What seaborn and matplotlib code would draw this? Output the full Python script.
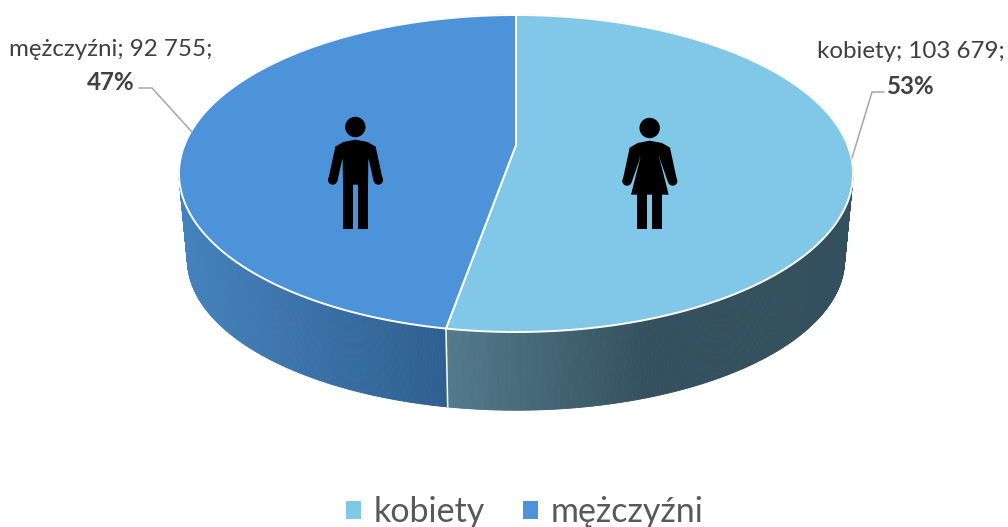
import numpy as np
import seaborn as sns
import matplotlib.pyplot as plt
from matplotlib.collections import PolyCollection
from matplotlib.patches import Patch, Polygon, Circle

# dane
categories = ['kobiety', 'mężczyźni']
values = [103679, 92755]
value_labels = ['103 679', '92 755']
colors = ['#81C8E8', '#4D93D9']

sns.set_theme(style='white')
plt.rcParams['font.family'] = ['Lato', 'DejaVu Sans']

# geometria "3D" kola (w pikselach rysunku)
cx, apex_y = 516, 145
half_w, y_up, y_down = 337, 130, 187
k = (y_down - y_up) / (y_down + y_up)
a = y_up * (1 + k)
b = half_w * np.sqrt(1 - k ** 2)
rim_scale_x, rim_scale_y, rim_apex_y = 0.975, 0.95, 232.6


def project(phi, sx=1.0, sy=1.0, y0=apex_y):
    # phi liczone od gory, zgodnie z ruchem wskazowek zegara
    u, v = np.sin(phi), np.cos(phi)
    d = 1 + k * v
    return cx + sx * b * u / d, y0 - sy * a * v / d


fig, ax = plt.subplots(figsize=(10.08, 5.27), dpi=100)
fig.subplots_adjust(0, 0, 1, 1)
ax.set_xlim(0, 1008)
ax.set_ylim(527, 0)
ax.axis('off')

shares = np.array(values) / sum(values)
edges = np.concatenate([[0], np.cumsum(shares)]) * 2 * np.pi

# boczna sciana z gradientem
side_palettes = [
    sns.blend_palette(['#527B8C', '#344F5D', '#344F5D'], 200),
    sns.blend_palette(['#4583BE', '#2F5F90'], 200),
]
x_ranges = [(447, 853), (180, 447)]
for i in range(2):
    phis = np.linspace(edges[i], edges[i + 1], 500)
    xt, yt = project(phis)
    xb, yb = project(phis, rim_scale_x, rim_scale_y, rim_apex_y)
    quads, cols = [], []
    x0, x1 = x_ranges[i]
    for j in range(len(phis) - 1):
        quads.append([(xt[j], yt[j]), (xt[j + 1], yt[j + 1]), (xb[j + 1], yb[j + 1]), (xb[j], yb[j])])
        t = np.clip((xb[j] - x0) / (x1 - x0), 0, 0.999)
        cols.append(side_palettes[i][int(t * 200)])
    ax.add_collection(PolyCollection(quads, facecolors=cols, edgecolors=cols, linewidths=0.6, zorder=1))

# linia miedzy segmentami na boku
xt, yt = project(edges[1])
xb, yb = project(edges[1], rim_scale_x, rim_scale_y, rim_apex_y)
ax.plot([xt, xb], [yt, yb], color='white', lw=1.1, zorder=2)

# gorna powierzchnia
for i in range(2):
    phis = np.linspace(edges[i], edges[i + 1], 400)
    xs, ys = project(phis)
    pts = np.column_stack([np.r_[cx, xs], np.r_[apex_y, ys]])
    ax.add_patch(Polygon(pts, closed=True, facecolor=colors[i], edgecolor='white', lw=1.4, zorder=3))


# ikony ludzikow (wspolrzedne z powiekszenia)
def zp(zx, zy):
    return 300 + zx / 3, 100 + zy / 3


def person(dx, dy, dress=False):
    def shape(points):
        ax.add_patch(Polygon([zp(x + dx, y + dy) for x, y in points], color='black', lw=0, zorder=5))

    ax.add_patch(Circle(zp(166 + dx, 81 + dy), 10.2, color='black', lw=0, zorder=5))
    if dress:
        shape([(106, 140), (130, 126), (166, 119), (203, 126), (227, 140), (195, 170), (223, 281), (110, 281), (138, 170)])
    else:
        shape([(106, 140), (130, 126), (166, 119), (203, 126), (227, 140), (205, 180), (204, 254), (129, 254), (128, 180)])
    inner = 137 if dress else 128
    arm = [(106, 140), (85, 238), (112, 244), (inner, 172), (125, 135)]
    shape(arm)
    shape([(333 - x, y) for x, y in arm])
    for hx in (98, 235):
        ax.add_patch(Circle(zp(hx + dx, 240 + dy), 4.7, color='black', lw=0, zorder=5))
    for lx in (129, 174):
        shape([(lx, 250), (lx + 30, 250), (lx + 30, 385 + (0 if dress else 3)), (lx, 385 + (0 if dress else 3))])


person(0, 0)
person(883, 3, dress=True)

# linie odniesienia
ax.plot([884, 872, 852], [92, 92, 158], color='#A6A6A6', lw=1.1, zorder=4)
ax.plot([139, 152, 192], [88, 88, 132], color='#A6A6A6', lw=1.1, zorder=4)

# etykiety
label_pos = [(911, 52, 86), (111, 50, 82)]
for i, (x, y1, y2) in enumerate(label_pos):
    ax.text(x, y1, f'{categories[i]}; {value_labels[i]};', ha='center', va='center', fontsize=17.4, color='#404040')
    ax.text(x, y2, f'{shares[i] * 100:.0f}%', ha='center', va='center', fontsize=17.4, fontweight='bold', color='#404040')

# legenda
handles = [Patch(facecolor=c, edgecolor='none', label=n) for c, n in zip(colors, categories)]
ax.legend(handles=handles, ncol=2, loc='lower center', bbox_to_anchor=(0.5205, -0.035), frameon=False,
          fontsize=24.5, labelcolor='#595959', handlelength=0.45, handleheight=0.45, handletextpad=0.37,
          columnspacing=1.11, borderpad=0)

fig.savefig('out.png', dpi=100)
